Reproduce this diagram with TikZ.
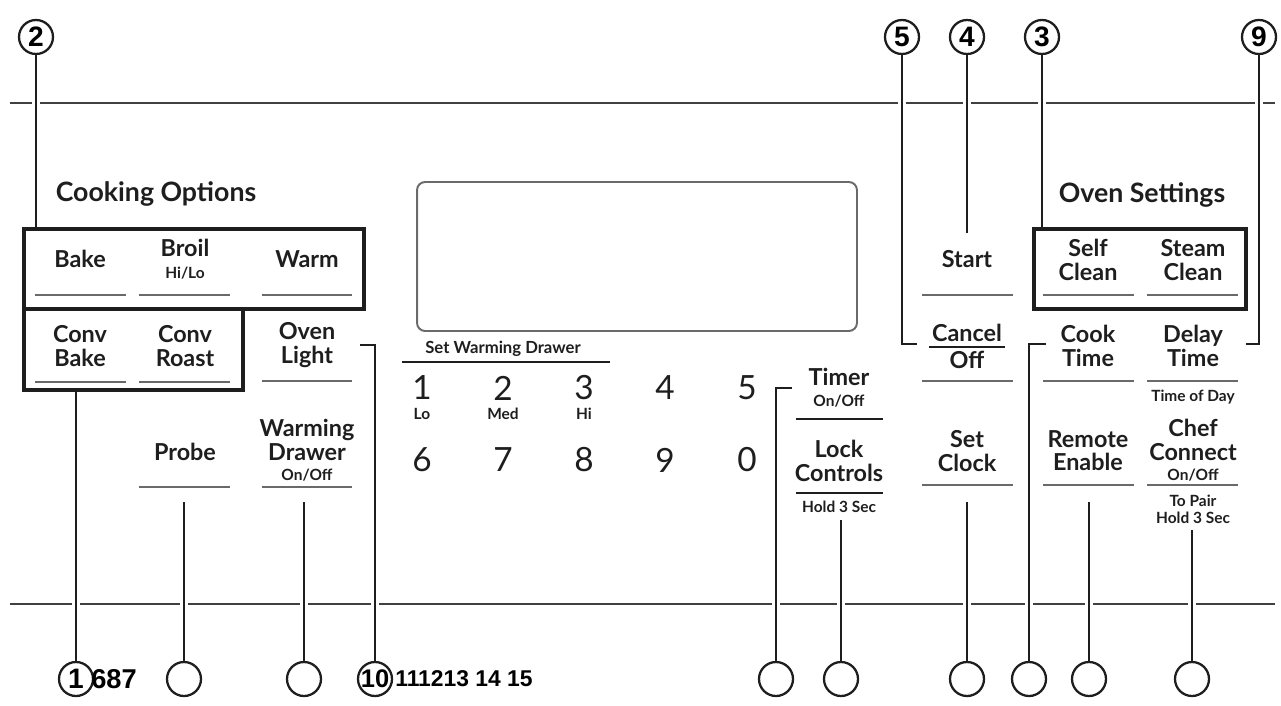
\documentclass[tikz,border=0pt]{standalone}
\usepackage{fontspec}
\setmainfont{Lato}
\newfontfamily\callfont{Liberation Sans}
\usetikzlibrary{positioning}
\definecolor{inkblack}{HTML}{1E1E1E}
\definecolor{panelgray}{HTML}{6A6A6A}

\begin{document}
\begin{tikzpicture}[
  x=0.02cm, y=-0.02cm,
  key/.style={align=center, inner sep=0pt, text=inkblack,
              font=\bfseries\fontsize{13.3}{13.2}\selectfont},
  sub/.style={align=center, inner sep=0pt, text=inkblack,
              font=\bfseries\fontsize{8.8}{9.6}\selectfont},
  digit/.style={inner sep=0pt, text=inkblack, font=\fontsize{19}{19}\selectfont},
  head/.style={inner sep=0pt, text=inkblack, font=\bfseries\fontsize{15.2}{15}\selectfont},
  callout/.style={circle, draw=inkblack, line width=1.3pt, minimum size=0.68cm,
                  inner sep=0pt, font=\callfont\bfseries\fontsize{16}{16}\selectfont},
  refnum/.style={inner sep=0pt, font=\callfont\bfseries\fontsize{#1}{#1}\selectfont},
  leader/.style={line width=1.2pt, draw=inkblack,
                 preaction={draw=white, line width=4.5pt}},
  rule/.style={line width=1.2pt, draw=inkblack!85},
  uline/.style={line width=1.1pt, draw=panelgray},
  tline/.style={line width=1.6pt, draw=inkblack},
  grpbox/.style={line width=2.3pt, draw=inkblack, inner sep=0pt},
]
\useasboundingbox (0,0) rectangle (1281,706);

%% ===== PANEL RULES =====
\draw[rule] (10,103) -- (1275,103);
\draw[rule] (10,604) -- (1275,604);

%% ===== CALLOUTS =====
\node[callout] (c2) at (36,37) {2};
\node[callout] (c5) at (902,37) {5};
\node[callout] (c4) at (967,37) {4};
\node[callout] (c3) at (1042,37) {3};
\node[callout] (c9) at (1259,37) {9};

\node[callout] (c1) at (76,679) {1};
\node[callout] (cprobe) at (184,679) {};
\node[callout] (cdrawer) at (304,679) {};
\node[callout, font=\callfont\bfseries\fontsize{14.5}{14.5}\selectfont] (c10) at (375,679) {10};
\node[callout] (ctimer) at (776,679) {};
\node[callout] (clock) at (841,679) {};
\node[callout] (cclock) at (967,679) {};
\node[callout] (ccook) at (1029,679) {};
\node[callout] (cremote) at (1089,679) {};
\node[callout] (cchef) at (1192,679) {};

\node[refnum=15.5, anchor=west] (n687) at (91,679) {687};
\node[refnum=13, anchor=west] (n1115) at (395,679) {111213 14 15};

%% ===== GROUP BOXES & DISPLAY =====
\node[grpbox, minimum width=6.8cm, minimum height=1.6cm] (optbox) at (194,269) {};
\node[grpbox, minimum width=4.38cm, minimum height=1.62cm] (convbox) at (133.5,349.5) {};
\node[grpbox, minimum width=4.24cm, minimum height=1.6cm] (setbox) at (1140,269) {};
\node[draw=panelgray, line width=1.1pt, rounded corners=0.16cm,
      minimum width=8.8cm, minimum height=2.98cm] (display) at (637,256.5) {};

%% ===== LEADER ENDS =====
\coordinate (startEnd)  at (967,233);
\coordinate (cancelEnd) at (917,344);
\coordinate (delayEnd)  at (1246,344);
\coordinate (lightEnd)  at (360,345);
\coordinate (probeEnd)  at (184,502);
\coordinate (drawerEnd) at (304,502);
\coordinate (timerEnd)  at (792,388);
\coordinate (lockEnd)   at (841,520);
\coordinate (clockEnd)  at (967,502);
\coordinate (cookEnd)   at (1046,344);
\coordinate (remoteEnd) at (1089,502);
\coordinate (chefEnd)   at (1192,530);

%% ===== LEADERS =====
\draw[leader] (c2) -- (c2 |- optbox.north);
\draw[leader] (c5) |- (cancelEnd);
\draw[leader] (c4) -- (startEnd);
\draw[leader] (c3) -- (c3 |- setbox.north);
\draw[leader] (c9) |- (delayEnd);
\draw[leader] (c1) -- (c1 |- convbox.south);
\draw[leader] (cprobe) -- (probeEnd);
\draw[leader] (cdrawer) -- (drawerEnd);
\draw[leader] (c10) |- (lightEnd);
\draw[leader] (ctimer) |- (timerEnd);
\draw[leader] (clock) -- (lockEnd);
\draw[leader] (cclock) -- (clockEnd);
\draw[leader] (ccook) |- (cookEnd);
\draw[leader] (cremote) -- (remoteEnd);
\draw[leader] (cchef) -- (chefEnd);

%% ===== KEY UNDERLINES =====
\foreach \xa/\xb/\yy in {35/126/295, 139/230/295, 262/352/295,
                         35/126/382, 139/230/382, 262/352/381,
                         139/230/487, 262/352/487,
                         922/1013/295, 922/1013/381, 922/1013/485,
                         1043/1134/295, 1147/1238/295,
                         1043/1134/381, 1147/1238/381,
                         1043/1134/485, 1147/1238/485}
  \draw[uline] (\xa,\yy) -- (\xb,\yy);

\foreach \xa/\xb/\yy in {402/610/362, 796/883/419, 796/883/493, 929/1005/347}
  \draw[tline] (\xa,\yy) -- (\xb,\yy);

%% ===== LEFT: COOKING OPTIONS =====
\node[head] (cookopt) at (156,194) {Cooking Options};
\node[key] (bake) at (80,259) {Bake};
\node[key] (broil) at (185,248) {Broil};
\node[sub] (hilo) at (185,273) {Hi/Lo};
\node[key] (warm) at (307,259) {Warm};
\node[key] (convbake) at (80,346) {Conv\\Bake};
\node[key] (convroast) at (185,346) {Conv\\Roast};
\node[key] (ovenlight) at (307,345) {Oven\\Light};
\node[key] (probe) at (185,452) {Probe};
\node[key] (drawer) at (307,440) {Warming\\Drawer};
\node[sub] (draweronoff) at (307,475) {On/Off};

%% ===== MIDDLE: WARMING DRAWER KEYPAD =====
\node[sub, font=\bfseries\fontsize{9.5}{9.5}\selectfont] (setdrawer) at (503,349) {Set Warming Drawer};
\foreach \dg/\xx in {1/422, 2/503, 3/584, 4/665, 5/747}
  \node[digit] (d\dg) at (\xx,388) {\dg};
\foreach \dg/\xx in {6/422, 7/503, 8/584, 9/665, 0/747}
  \node[digit] (d\dg) at (\xx,460) {\dg};
\node[sub] (lo) at (422,414) {Lo};
\node[sub] (med) at (503,414) {Med};
\node[sub] (hi) at (584,414) {Hi};

\node[key] (timer) at (839,377) {Timer};
\node[sub] (timeronoff) at (839,401) {On/Off};
\node[key] (lockctl) at (839,461) {Lock\\Controls};
\node[sub] (lockhold) at (839,507) {Hold 3 Sec};

%% ===== RIGHT: OVEN SETTINGS =====
\node[head] (ovenset) at (1142,195) {Oven Settings};
\node[key] (start) at (967,259) {Start};
\node[key] (cancel) at (967,333) {Cancel};
\node[key] (off) at (967,360) {Off};
\node[key] (setclock) at (967,451) {Set\\Clock};
\node[key] (selfclean) at (1088,260) {Self\\Clean};
\node[key] (steamclean) at (1193,260) {Steam\\Clean};
\node[key] (cooktime) at (1088,346) {Cook\\Time};
\node[key] (delaytime) at (1193,346) {Delay\\Time};
\node[sub] (timeofday) at (1193,397) {Time of Day};
\node[key] (remote) at (1088,451) {Remote\\Enable};
\node[key] (chef) at (1193,440) {Chef\\Connect};
\node[sub] (chefonoff) at (1193,475) {On/Off};
\node[sub] (chefpair) at (1193,509) {To Pair\\Hold 3 Sec};

\end{tikzpicture}
\end{document}
